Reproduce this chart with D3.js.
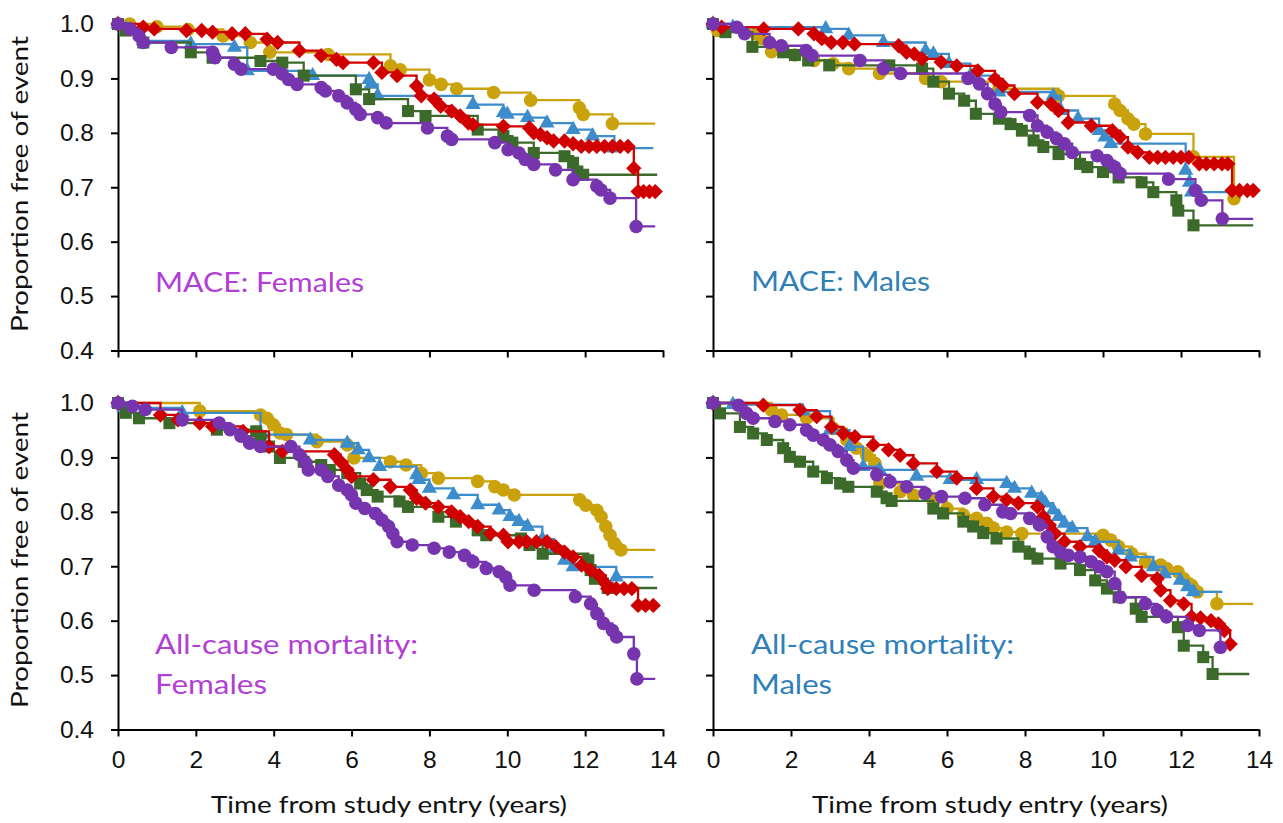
<!DOCTYPE html>
<html>
<head>
<meta charset="utf-8">
<script src="https://cdn.jsdelivr.net/npm/d3@7"></script>
<style>
  html, body { margin: 0; padding: 0; background: #fff; }
  svg { display: block; }
  .chart__axis text { font-family: "Liberation Sans", Arial, sans-serif; font-size: 24.5px; fill: #111; }
  .chart__axis path, .chart__axis line { stroke: #000; stroke-width: 2px; }
  .chart__label { font-family: Lato, "Open Sans", sans-serif; font-size: 23px; fill: #111; }
  .chart__title { font-family: Lato, "Open Sans", sans-serif; font-size: 26px; }
  .chart__line { fill: none; stroke-width: 2.3px; }
</style>
</head>
<body>
<div id="chart"></div>
<script>
// Axis ticks
const xTicks = [0, 2, 4, 6, 8, 10, 12, 14];
const yTicks = [0.4, 0.5, 0.6, 0.7, 0.8, 0.9, 1.0];

// Series (drawn in this order): gold, blue, green, red, purple
const seriesNames = ["gold", "blue", "green", "red", "purple"];
const seriesColors = ["#c9a20c", "#3d8dcc", "#3b6a2a", "#d10000", "#7634ae"];

// MACE: Females  -- [years, proportion free of event]
const maceFemGold = [[0,1],[0.3,1.0],[1.0,0.995],[1.8,0.99],[2.7,0.978],[3.4,0.966],[3.9,0.948],[5.4,0.944],[7.0,0.923],[7.25,0.916],[8.0,0.897],[8.3,0.889],[8.7,0.881],[9.65,0.874],[10.6,0.86],[11.85,0.846],[11.95,0.834],[12.7,0.817]];
const maceFemBlue = [[0,1],[0.2,0.991],[0.65,0.969],[1.87,0.963],[2.99,0.957],[3.32,0.914],[5.0,0.905],[6.45,0.898],[6.5,0.889],[6.67,0.868],[9.12,0.852],[9.9,0.837],[10.0,0.834],[10.52,0.828],[11.02,0.818],[11.69,0.806],[12.19,0.794],[12.75,0.772]];
const maceFemGreen = [[0,1],[0.2,0.988],[0.65,0.966],[1.87,0.948],[2.43,0.938],[3.66,0.932],[4.22,0.929],[4.77,0.905],[6.11,0.88],[6.45,0.862],[7.45,0.84],[7.9,0.831],[9.24,0.806],[9.9,0.794],[10.13,0.782],[10.68,0.763],[11.47,0.757],[11.69,0.745],[11.8,0.729],[11.95,0.723]];
const maceFemRed = [[0,1],[0.65,0.994],[0.93,0.991],[1.76,0.988],[2.15,0.988],[2.43,0.985],[2.93,0.982],[3.27,0.982],[3.83,0.972],[4.1,0.966],[4.66,0.951],[5.22,0.942],[5.61,0.935],[5.78,0.929],[6.56,0.929],[6.78,0.911],[7.17,0.905],[7.67,0.886],[7.79,0.868],[8.12,0.862],[8.29,0.849],[8.57,0.84],[8.79,0.831],[9.0,0.818],[9.12,0.815],[9.9,0.812],[10.57,0.809],[10.68,0.8],[10.85,0.797],[11.02,0.791],[11.19,0.785],[11.47,0.785],[11.69,0.78],[11.9,0.775],[12.1,0.775],[12.3,0.775],[12.5,0.775],[12.7,0.775],[12.9,0.775],[13.1,0.775],[13.25,0.735],[13.36,0.692],[13.5,0.692],[13.65,0.692],[13.8,0.692]];
const maceFemPurple = [[0,1],[0.31,0.991],[0.54,0.978],[0.65,0.966],[1.37,0.957],[2.43,0.948],[2.49,0.938],[2.99,0.926],[3.16,0.917],[3.99,0.917],[4.22,0.908],[4.38,0.898],[4.6,0.889],[5.22,0.883],[5.33,0.877],[5.67,0.868],[5.89,0.855],[6.11,0.843],[6.22,0.834],[6.67,0.828],[6.89,0.818],[7.95,0.809],[8.46,0.794],[8.57,0.788],[9.68,0.782],[10.02,0.769],[10.3,0.763],[10.46,0.751],[10.68,0.742],[11.24,0.732],[11.69,0.714],[12.3,0.702],[12.41,0.695],[12.64,0.68],[13.31,0.628]];
const maceFemEnd = [13.8, 13.75, 13.85, 13.8, 13.8];

// MACE: Males
const maceMalGold = [[0,1],[0.12,0.988],[1.1,0.982],[1.25,0.973],[1.5,0.949],[2.1,0.943],[2.59,0.933],[3.08,0.927],[3.48,0.918],[4.27,0.909],[5.45,0.9],[5.85,0.894],[7.33,0.881],[8.86,0.868],[10.3,0.853],[10.44,0.841],[10.64,0.826],[10.79,0.816],[11.09,0.798],[12.32,0.756],[13.36,0.679]];
const maceMalBlue = [[0,1],[0.51,0.994],[2.89,0.991],[3.48,0.979],[4.37,0.966],[5.45,0.951],[5.65,0.945],[6.05,0.927],[6.6,0.905],[7.33,0.875],[8.72,0.868],[8.92,0.841],[9.36,0.826],[9.9,0.804],[10.05,0.792],[10.2,0.78],[12.12,0.731],[12.22,0.709],[12.27,0.691]];
const maceMalGreen = [[0,1],[0.32,0.985],[1.01,0.958],[1.8,0.948],[2.1,0.943],[2.44,0.933],[2.98,0.924],[4.52,0.924],[5.36,0.918],[5.65,0.894],[6.05,0.872],[6.44,0.859],[6.74,0.835],[7.33,0.826],[7.63,0.816],[7.92,0.804],[8.22,0.786],[8.47,0.774],[8.86,0.761],[9.41,0.743],[9.6,0.737],[10.0,0.728],[10.4,0.718],[10.99,0.709],[11.29,0.691],[11.88,0.676],[11.93,0.657],[12.32,0.63]];
const maceMalRed = [[0,1],[0.22,0.994],[1.3,0.991],[2.19,0.991],[2.59,0.982],[2.79,0.973],[3.03,0.966],[3.33,0.966],[3.63,0.963],[4.76,0.96],[4.96,0.948],[5.16,0.945],[5.36,0.936],[5.85,0.93],[6.25,0.923],[6.79,0.914],[7.23,0.899],[7.43,0.887],[7.73,0.872],[8.32,0.856],[8.67,0.853],[8.86,0.841],[9.11,0.819],[9.7,0.813],[10.24,0.804],[10.44,0.792],[10.64,0.774],[10.89,0.764],[11.19,0.755],[11.4,0.755],[11.6,0.755],[11.8,0.755],[12.0,0.755],[12.2,0.755],[12.47,0.743],[12.65,0.743],[12.85,0.743],[13.05,0.743],[13.2,0.743],[13.31,0.694],[13.5,0.694],[13.7,0.694],[13.85,0.694]];
const maceMalPurple = [[0,1],[0.61,0.994],[0.81,0.982],[1.45,0.966],[1.75,0.96],[2.39,0.951],[2.54,0.942],[3.77,0.933],[4.37,0.918],[4.81,0.909],[6.54,0.9],[6.83,0.89],[7.04,0.872],[7.23,0.853],[7.38,0.838],[8.12,0.832],[8.32,0.813],[8.57,0.801],[8.81,0.789],[9.01,0.78],[9.21,0.764],[9.85,0.758],[10.1,0.749],[10.3,0.737],[10.44,0.725],[11.68,0.715],[12.37,0.694],[12.52,0.676],[13.06,0.642]];
const maceMalEnd = [13.4, 13.85, 13.85, 13.85, 13.85];

// All-cause mortality: Females
const mortFemGold = [[0,1],[2.1,0.985],[3.66,0.978],[3.83,0.972],[3.99,0.96],[4.16,0.945],[4.33,0.942],[5.11,0.929],[5.89,0.923],[6.06,0.899],[7.0,0.892],[7.4,0.886],[7.79,0.871],[8.23,0.862],[9.24,0.856],[9.68,0.846],[9.9,0.84],[10.18,0.831],[11.86,0.822],[12.02,0.812],[12.3,0.803],[12.41,0.791],[12.53,0.773],[12.64,0.757],[12.75,0.742],[12.92,0.73]];
const mortFemBlue = [[0,1],[0.15,0.991],[1.65,0.982],[3.66,0.942],[4.94,0.932],[5.89,0.926],[6.17,0.914],[6.45,0.899],[6.72,0.883],[7.67,0.868],[7.73,0.859],[8.0,0.843],[8.62,0.831],[9.24,0.813],[9.79,0.803],[10.07,0.791],[10.3,0.782],[10.52,0.773],[10.9,0.75],[11.2,0.73],[11.47,0.711],[11.69,0.699],[12.8,0.68]];
const mortFemGreen = [[0,1],[0.2,0.982],[0.54,0.972],[1.32,0.963],[2.54,0.951],[3.55,0.948],[3.66,0.939],[3.88,0.92],[4.16,0.899],[4.77,0.892],[5.22,0.886],[5.44,0.877],[5.89,0.871],[6.22,0.852],[6.39,0.84],[6.67,0.828],[7.23,0.819],[7.45,0.809],[8.23,0.791],[8.68,0.782],[9.24,0.766],[9.46,0.757],[10.35,0.751],[10.57,0.739],[10.91,0.723],[12.08,0.711],[12.14,0.693],[12.25,0.677],[12.58,0.66]];
const mortFemRed = [[0,1],[1.09,0.978],[1.54,0.969],[2.1,0.963],[2.43,0.957],[3.21,0.948],[3.88,0.92],[4.22,0.911],[5.56,0.905],[5.72,0.892],[5.89,0.877],[6.0,0.865],[6.56,0.859],[7.0,0.846],[7.51,0.84],[7.67,0.825],[7.9,0.816],[8.23,0.809],[8.57,0.8],[8.79,0.791],[9.01,0.782],[9.24,0.773],[9.57,0.76],[9.9,0.757],[10.02,0.745],[10.3,0.745],[10.5,0.745],[10.75,0.745],[11.02,0.745],[11.24,0.736],[11.47,0.726],[11.69,0.717],[11.91,0.702],[12.14,0.693],[12.36,0.683],[12.53,0.668],[12.58,0.659],[12.8,0.659],[13.0,0.659],[13.2,0.659],[13.36,0.628],[13.55,0.628],[13.75,0.628]];
const mortFemPurple = [[0,1],[0.37,0.994],[0.7,0.988],[1.65,0.969],[2.6,0.963],[2.88,0.951],[3.16,0.939],[3.38,0.926],[3.66,0.92],[4.44,0.92],[4.66,0.905],[4.83,0.889],[4.89,0.877],[5.22,0.877],[5.39,0.865],[5.67,0.849],[5.89,0.84],[6.0,0.831],[6.11,0.816],[6.34,0.806],[6.61,0.797],[6.78,0.785],[6.95,0.773],[7.06,0.76],[7.17,0.745],[7.56,0.739],[8.12,0.733],[8.51,0.726],[8.9,0.72],[9.12,0.708],[9.46,0.696],[9.79,0.69],[9.96,0.68],[10.07,0.665],[10.69,0.656],[11.75,0.644],[12.14,0.631],[12.3,0.613],[12.47,0.595],[12.7,0.582],[12.81,0.57],[13.25,0.539],[13.33,0.493]];
const mortFemEnd = [13.8, 13.75, 13.85, 13.87, 13.8];

// All-cause mortality: Males
const mortMalGold = [[0,1],[1.5,0.987],[1.76,0.978],[2.4,0.972],[3.09,0.953],[3.43,0.932],[3.68,0.917],[3.94,0.904],[4.15,0.889],[4.28,0.852],[4.8,0.837],[5.14,0.831],[5.65,0.819],[6.0,0.806],[6.42,0.794],[6.76,0.788],[7.02,0.779],[7.19,0.77],[7.53,0.763],[7.92,0.76],[10.0,0.757],[10.2,0.748],[10.4,0.736],[10.74,0.723],[11.09,0.708],[11.48,0.702],[11.63,0.696],[11.92,0.69],[12.07,0.677],[12.27,0.665],[12.42,0.653],[12.92,0.631]];
const mortMalBlue = [[0,1],[0.51,0.997],[2.3,0.985],[3.0,0.95],[3.5,0.92],[3.85,0.883],[4.27,0.877],[5.22,0.865],[6.08,0.859],[6.76,0.859],[7.53,0.852],[7.73,0.843],[8.17,0.834],[8.42,0.825],[8.52,0.816],[8.72,0.803],[8.86,0.791],[9.01,0.779],[9.21,0.77],[9.6,0.754],[9.8,0.745],[10.4,0.729],[10.7,0.717],[11.29,0.699],[11.58,0.686],[11.98,0.674],[12.17,0.662],[12.32,0.653]];
const mortMalGreen = [[0,1],[0.18,0.981],[0.69,0.956],[1.03,0.944],[1.38,0.932],[1.8,0.917],[1.97,0.901],[2.23,0.892],[2.57,0.874],[2.92,0.862],[3.26,0.852],[3.47,0.846],[4.2,0.837],[4.45,0.825],[4.58,0.82],[5.65,0.806],[5.9,0.797],[6.42,0.782],[6.67,0.773],[6.93,0.761],[7.27,0.751],[7.83,0.736],[8.12,0.723],[8.32,0.714],[8.91,0.705],[9.41,0.693],[9.8,0.674],[10.1,0.659],[10.4,0.643],[10.84,0.622],[10.99,0.607],[11.92,0.588],[12.07,0.554],[12.57,0.533],[12.81,0.502]];
const mortMalRed = [[0,1],[1.29,0.996],[2.23,0.987],[2.66,0.975],[3.04,0.956],[3.34,0.944],[3.64,0.938],[4.11,0.923],[4.5,0.914],[4.8,0.904],[5.14,0.889],[5.74,0.874],[6.25,0.862],[6.76,0.843],[7.19,0.828],[7.53,0.822],[7.83,0.816],[8.32,0.809],[8.47,0.791],[8.62,0.776],[8.77,0.76],[9.01,0.745],[9.41,0.736],[9.9,0.729],[10.1,0.717],[10.3,0.711],[10.59,0.699],[10.99,0.683],[11.39,0.677],[11.48,0.656],[11.73,0.637],[12.07,0.631],[12.27,0.607],[12.5,0.605],[12.77,0.6],[12.96,0.594],[13.11,0.582],[13.26,0.557]];
const mortMalPurple = [[0,1],[0.65,0.996],[0.86,0.981],[1.03,0.972],[1.59,0.966],[1.97,0.96],[2.4,0.95],[2.57,0.941],[2.83,0.932],[3.0,0.923],[3.21,0.911],[3.43,0.895],[3.6,0.88],[4.2,0.868],[4.54,0.855],[4.97,0.846],[5.44,0.834],[5.86,0.828],[6.46,0.825],[6.97,0.813],[7.43,0.8],[7.63,0.797],[8.12,0.788],[8.37,0.776],[8.57,0.754],[8.72,0.736],[8.91,0.726],[9.11,0.72],[9.41,0.717],[9.7,0.708],[9.9,0.699],[10.1,0.69],[10.3,0.668],[10.44,0.643],[11.09,0.631],[11.39,0.619],[11.63,0.607],[12.17,0.591],[12.47,0.582],[13.01,0.551]];
const mortMalEnd = [13.85, 13.06, 13.75, 13.26, 13.01];

// Panel labels
const femaleColor = "#b23fd4";
const maleColor = "#2f80b8";

/**
 * One Kaplan-Meier panel: axes, step lines and event markers.
 */
class SurvivalPanel
{
  constructor(svg, opts)
  {
    this._svg = svg;
    this._opts = opts;
    this._x = d3.scaleLinear().domain([0, 14]).range(opts.xRange);
    this._y = d3.scaleLinear().domain([0.4, 1.0]).range(opts.yRange);
    this._g = svg.append("g");
  }

  init()
  {
    const o = this._opts;

    // x axis
    this._g.append("g")
      .attr("class", "chart__axis")
      .attr("transform", "translate(0," + o.yRange[0] + ")")
      .call(d3.axisBottom(this._x).tickValues(xTicks).tickSize(7).tickSizeOuter(0).tickPadding(14)
        .tickFormat(o.xLabels ? d3.format("d") : ""));

    // y axis
    this._g.append("g")
      .attr("class", "chart__axis")
      .attr("transform", "translate(" + o.xRange[0] + ",0)")
      .call(d3.axisLeft(this._y).tickValues(yTicks).tickSize(7).tickSizeOuter(0).tickPadding(17)
        .tickFormat(o.yLabels ? d3.format(".1f") : ""));

    // panel title
    o.title.forEach((t, i) => {
      this._g.append("text")
        .attr("class", "chart__title")
        .attr("x", o.titleX)
        .attr("y", o.titleY + i * 40)
        .attr("fill", o.titleColor)
        .attr("textLength", o.titleLen[i])
        .attr("lengthAdjust", "spacingAndGlyphs")
        .text(t);
    });

    return this;
  }

  render(series, ends)
  {
    const line = d3.line()
      .curve(d3.curveStepAfter)
      .x(d => this._x(d[0]))
      .y(d => this._y(d[1]));

    const symbols = [d3.symbolCircle, d3.symbolTriangle, d3.symbolSquare,
      d3.symbolDiamond2 || d3.symbolDiamond, d3.symbolCircle];
    const sizes = [145, 100, 145, 150, 145];

    series.forEach((pts, i) => {
      const last = pts[pts.length - 1];
      const g = this._g.append("g");

      g.append("path")
        .attr("class", "chart__line")
        .attr("stroke", seriesColors[i])
        .attr("d", line(pts.concat([[ends[i], last[1]]])));

      g.selectAll("path.chart__dot")
        .data(pts)
        .enter()
        .append("path")
        .attr("class", "chart__dot")
        .attr("fill", seriesColors[i])
        .attr("transform", d => "translate(" + this._x(d[0]) + "," + this._y(d[1]) + ")")
        .attr("d", d3.symbol().type(symbols[i]).size(sizes[i]));
    });

    return this;
  }
}

const svg = d3.select("#chart").append("svg")
  .attr("width", 1283)
  .attr("height", 823);

const leftRange = [118, 663], rightRange = [713, 1259];
const topRange = [350.5, 24], bottomRange = [729.5, 403];

new SurvivalPanel(svg, {xRange: leftRange, yRange: topRange, xLabels: false, yLabels: true,
  title: ["MACE: Females"], titleLen: [209], titleX: 155, titleY: 292, titleColor: femaleColor})
  .init().render([maceFemGold, maceFemBlue, maceFemGreen, maceFemRed, maceFemPurple], maceFemEnd);

new SurvivalPanel(svg, {xRange: rightRange, yRange: topRange, xLabels: false, yLabels: false,
  title: ["MACE: Males"], titleLen: [179], titleX: 751, titleY: 291, titleColor: maleColor})
  .init().render([maceMalGold, maceMalBlue, maceMalGreen, maceMalRed, maceMalPurple], maceMalEnd);

new SurvivalPanel(svg, {xRange: leftRange, yRange: bottomRange, xLabels: true, yLabels: true,
  title: ["All-cause mortality:", "Females"], titleLen: [263, 112], titleX: 155, titleY: 654, titleColor: femaleColor})
  .init().render([mortFemGold, mortFemBlue, mortFemGreen, mortFemRed, mortFemPurple], mortFemEnd);

new SurvivalPanel(svg, {xRange: rightRange, yRange: bottomRange, xLabels: true, yLabels: false,
  title: ["All-cause mortality:", "Males"], titleLen: [263, 81], titleX: 751, titleY: 654, titleColor: maleColor})
  .init().render([mortMalGold, mortMalBlue, mortMalGreen, mortMalRed, mortMalPurple], mortMalEnd);

// Axis labels
[184, 560].forEach(cy => {
  svg.append("text")
    .attr("class", "chart__label")
    .attr("transform", "translate(28," + cy + ") rotate(-90)")
    .attr("text-anchor", "middle")
    .attr("textLength", 296)
    .attr("lengthAdjust", "spacingAndGlyphs")
    .text("Proportion free of event");
});

[389, 990].forEach(cx => {
  svg.append("text")
    .attr("class", "chart__label")
    .attr("x", cx)
    .attr("y", 813)
    .attr("text-anchor", "middle")
    .attr("textLength", 356)
    .attr("lengthAdjust", "spacingAndGlyphs")
    .text("Time from study entry (years)");
});
</script>
</body>
</html>
